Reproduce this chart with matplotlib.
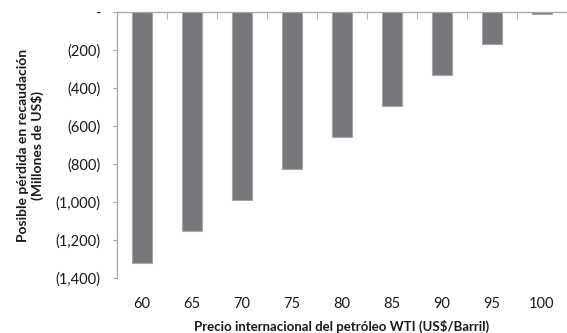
import matplotlib.pyplot as plt
import matplotlib.ticker as mticker
import numpy as np

# Precio WTI y posible perdida (millones de US$)
precios = ['60', '65', '70', '75', '80', '85', '90', '95', '100']
perdida = [-1320, -1155, -990, -825, -660, -495, -330, -165, -8]

plt.rcParams['font.family'] = ['Lato', 'DejaVu Sans']

fig = plt.figure(figsize=(5.67, 3.33), dpi=100)
ax = fig.add_axes([0.206, 0.166, 0.794, 0.797])

x = np.arange(len(precios))
ax.bar(x, perdida, width=0.4, color='#77787c', edgecolor='#a6a6a6', linewidth=0.8)

ax.set_xlim(-0.5, len(precios) - 0.5)
ax.set_ylim(-1400, 0)
ax.set_yticks(np.arange(-1400, 1, 200))


def fmt(v, pos):
    if v == 0:
        return '-'
    return '({:,.0f})'.format(abs(v))


ax.yaxis.set_major_formatter(mticker.FuncFormatter(fmt))

# etiquetas abajo, marcas en el eje superior (y = 0)
ax.set_xticks(x)
ax.set_xticklabels(precios)
ax.set_xticks(np.arange(0.5, len(precios) - 0.5, 1), minor=True)
ax.tick_params(axis='x', which='major', length=0, pad=14, labelsize=10.5, labelcolor='#1a1a1a')
ax.tick_params(axis='x', which='minor', bottom=False, top=True, direction='in', length=5,
               color='#a6a6a6')
ax.tick_params(axis='y', which='major', length=3, pad=9, labelsize=10.5, color='#a6a6a6',
               labelcolor='#1a1a1a')

for s in ['bottom', 'right']:
    ax.spines[s].set_visible(False)
for s in ['top', 'left']:
    ax.spines[s].set_color('#a6a6a6')
    ax.spines[s].set_linewidth(0.9)

ax.set_xlabel('Precio internacional del petróleo WTI (US$/Barril)', fontsize=9.5,
              fontweight='bold', color='#1a1a1a', labelpad=6)
ax.set_ylabel('Posible pérdida en recaudación\n(Millones de US$)', fontsize=10,
              fontweight='bold', color='#1a1a1a', labelpad=8)

fig.savefig('out.png', dpi=100)
